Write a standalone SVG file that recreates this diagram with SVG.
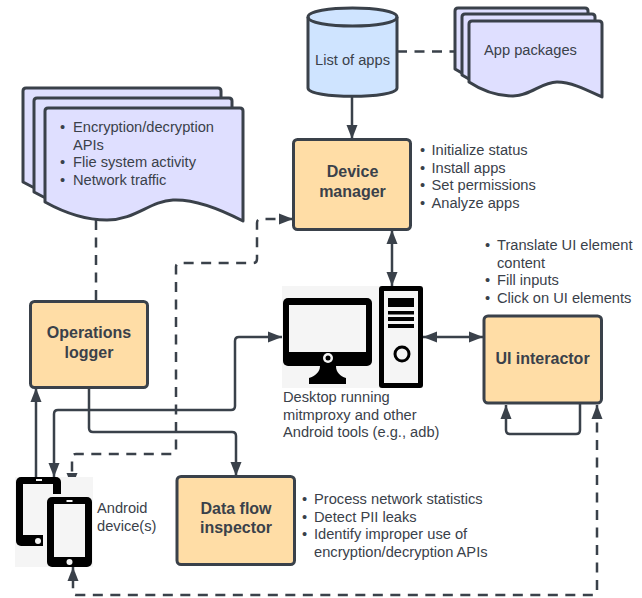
<svg xmlns="http://www.w3.org/2000/svg" width="642" height="598" viewBox="0 0 642 598">
<style>
text{font-family:"Liberation Sans",Arial,sans-serif;font-size:14.67px;fill:#3a414a}
.b{font-weight:bold;font-size:16px;text-anchor:middle}
.n{fill:#ffdda6;stroke:#3a414a;stroke-width:3}
.d{fill:#dfdfff;stroke:#3a414a;stroke-width:3;stroke-linejoin:round}
.c{fill:#cfe4ff;stroke:#3a414a;stroke-width:3}
.l{fill:none;stroke:#3a414a;stroke-width:2.5;stroke-linejoin:round}
.s{stroke-dasharray:10 7.5}
.k{fill:#000}
.g{fill:#f5f5f5}
</style>
<defs>
<marker id="a" markerUnits="userSpaceOnUse" markerWidth="15" markerHeight="12" refX="14" refY="6" orient="auto-start-reverse"><path d="M0 0.5L14 6L0 11.500Z" fill="#3a414a"/></marker>
<path id="doc" d="M0 3Q0 0 3 0H195Q198 0 198 3V113C175 101 150 91 128 92C105 93 90 112 62 112C38 112 18 104 0 94Z"/>
<path id="pkg" d="M0 3Q0 0 3 0H130Q133 0 133 3V76C116 68 102 61 88 61C72 61 62 75 44 75C28 75 12 69 0 61Z"/>
</defs>

<g id="connectors">
<path class="l" d="M352 96V139" marker-end="url(#a)"/>
<path class="l s" d="M397 51.500H455"/>
<path class="l s" d="M96 220V301"/>
<path class="l" d="M392 230V286" marker-start="url(#a)" marker-end="url(#a)"/>
<path class="l" d="M423 337H483" marker-start="url(#a)" marker-end="url(#a)"/>
<path class="l" d="M580 403V430Q580 434 576 434H510Q506 434 506 430V405" marker-end="url(#a)"/>
<path class="l" d="M36 477V388" marker-end="url(#a)"/>
<path class="l" d="M282 337H239Q235 337 235 341V406Q235 410 231 410H58Q54 410 54 414V477" marker-start="url(#a)" marker-end="url(#a)"/>
<path class="l" d="M89 388V428Q89 432 93 432H232Q236 432 236 436V476" marker-end="url(#a)"/>
<path class="l s" d="M293 219H261Q257 219 257 223V259Q257 263 253 263H180Q176 263 176 267V450Q176 454 172 454H76Q72 454 72 458V487" marker-start="url(#a)" marker-end="url(#a)"/>
<path class="l s" d="M597 405V591Q597 595 593 595H77Q73 595 73 591V567" marker-start="url(#a)" marker-end="url(#a)"/>
</g>

<g id="docs-operations">
<use href="#doc" x="23" y="88" class="d"/>
<use href="#doc" x="34" y="98" class="d"/>
<use href="#doc" x="45" y="108" class="d"/>
<text x="60" y="132">•</text><text x="73" y="132">Encryption/decryption</text>
<text x="73" y="149.500">APIs</text>
<text x="60" y="167">•</text><text x="73" y="167">Flie system activity</text>
<text x="60" y="184.500">•</text><text x="73" y="184.500">Network traffic</text>
</g>

<g id="app-packages">
<use href="#pkg" x="455" y="8" class="d"/>
<use href="#pkg" x="462" y="14" class="d"/>
<use href="#pkg" x="469" y="21" class="d"/>
<text x="484" y="55">App packages</text>
</g>

<g id="list-of-apps">
<path class="c" d="M308 17C308 5 397 5 397 17V88C397 99 308 99 308 88Z"/>
<path class="c" style="fill:none" d="M308 17C308 29 397 29 397 17"/>
<text x="352.500" y="64.500" text-anchor="middle">List of apps</text>
</g>

<g id="device-manager">
<rect class="n" x="293.500" y="139.500" width="117" height="90" rx="4"/>
<text class="b" x="352.500" y="177">Device</text>
<text class="b" x="352.500" y="196.500">manager</text>
</g>
<g id="device-manager-notes">
<text x="420" y="155">•</text><text x="431.500" y="155">Initialize status</text>
<text x="420" y="172.500">•</text><text x="431.500" y="172.500">Install apps</text>
<text x="420" y="190">•</text><text x="431.500" y="190">Set permissions</text>
<text x="420" y="207.500">•</text><text x="431.500" y="207.500">Analyze apps</text>
</g>

<g id="ui-notes">
<text x="485" y="250">•</text><text x="497" y="250">Translate UI element</text>
<text x="497" y="267.500">content</text>
<text x="485" y="285">•</text><text x="497" y="285">Fill inputs</text>
<text x="485" y="302.500">•</text><text x="497" y="302.500">Click on UI elements</text>
</g>

<g id="operations-logger">
<rect class="n" x="30.500" y="301.500" width="117" height="86" rx="4"/>
<text class="b" x="89" y="338">Operations</text>
<text class="b" x="89" y="357.500">logger</text>
</g>

<g id="ui-interactor">
<rect class="n" x="484" y="316" width="117.500" height="87" rx="4"/>
<text class="b" x="542.500" y="363.500">UI interactor</text>
</g>

<g id="data-flow-inspector">
<rect class="n" x="177" y="476.500" width="117.500" height="88" rx="4"/>
<text class="b" x="236" y="513.500">Data flow</text>
<text class="b" x="236" y="533">inspector</text>
</g>
<g id="data-flow-notes">
<text x="302" y="504">•</text><text x="314" y="504">Process network statistics</text>
<text x="302" y="521.500">•</text><text x="314" y="521.500">Detect PII leaks</text>
<text x="302" y="539">•</text><text x="314" y="539">Identify improper use of</text>
<text x="314" y="556.500">encryption/decryption APIs</text>
</g>

<g id="desktop">
<rect class="g" x="282" y="286" width="141" height="102"/>
<rect class="k" x="283" y="298" width="89" height="68" rx="5"/>
<rect class="g" x="289" y="305" width="77" height="47"/>
<circle cx="328" cy="358" r="5" fill="#f5f5f5"/><circle cx="328" cy="358" r="2.500" class="k"/>
<path class="k" d="M320 366H336C336 372 340 376 346 378V384H309V378C315 376 320 372 320 366Z"/>
<rect class="k" x="379" y="286" width="44" height="102" rx="3"/>
<rect class="g" x="384" y="291" width="34" height="92"/>
<rect class="k" x="388" y="298" width="26" height="9"/>
<rect class="k" x="388" y="311" width="26" height="3.500"/>
<rect class="k" x="388" y="317" width="26" height="4"/>
<rect class="k" x="388" y="324" width="26" height="4"/>
<circle cx="402" cy="354" r="7" fill="none" stroke="#000" stroke-width="3"/>
<text x="283" y="402">Desktop running</text>
<text x="283" y="419.500">mitmproxy and other</text>
<text x="283" y="437">Android tools (e.g., adb)</text>
</g>

<g id="android-devices">
<rect class="g" x="15" y="477" width="78" height="90"/>
<rect class="k" x="16" y="477" width="45" height="69" rx="5"/>
<rect class="g" x="23" y="484" width="30" height="51"/>
<rect x="36" y="479" width="6" height="2" fill="#f5f5f5"/>
<circle cx="38" cy="541" r="3" fill="#f5f5f5"/>
<rect class="g" x="43" y="494" width="50" height="73"/>
<rect class="k" x="47" y="497" width="45" height="70" rx="5"/>
<rect class="g" x="54" y="504" width="31" height="53"/>
<rect x="66.500" y="500" width="6" height="2" fill="#f5f5f5"/>
<circle cx="69.500" cy="562" r="3" fill="#f5f5f5"/>
<text x="97" y="513">Android</text>
<text x="97" y="530.500">device(s)</text>
</g>
</svg>
